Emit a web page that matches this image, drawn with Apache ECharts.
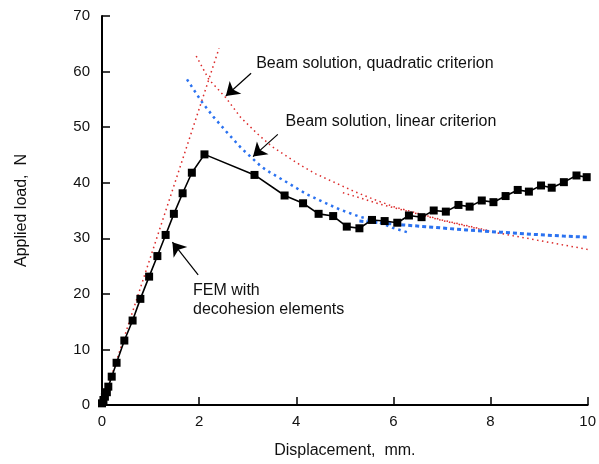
<!DOCTYPE html>
<html>
<head>
<meta charset="utf-8">
<script src="https://cdn.jsdelivr.net/npm/echarts@6/dist/echarts.min.js"></script>
<style>
  html, body { margin: 0; padding: 0; background: #fff; }
  #chart { width: 599px; height: 464px; }
</style>
</head>
<body>
<div id="chart"></div>
<script>
// FEM with decohesion elements: [displacement mm, load N]
const femPoints = [
  [0, 0.3], [0.03, 0.9], [0.06, 1.5], [0.1, 2.3], [0.13, 3.3], [0.2, 5.1],
  [0.3, 7.6], [0.46, 11.6], [0.63, 15.2], [0.79, 19.1], [0.97, 23.1],
  [1.14, 26.8], [1.31, 30.6], [1.48, 34.4], [1.66, 38.1], [1.85, 41.8],
  [2.11, 45.1], [3.14, 41.4], [3.76, 37.7], [4.14, 36.3], [4.46, 34.4],
  [4.76, 34.0], [5.04, 32.1], [5.30, 31.8], [5.56, 33.3], [5.82, 33.1],
  [6.08, 32.8], [6.32, 34.1], [6.58, 33.8], [6.83, 35.0], [7.08, 34.8],
  [7.34, 36.0], [7.57, 35.7], [7.82, 36.8], [8.06, 36.5], [8.31, 37.6],
  [8.56, 38.7], [8.79, 38.4], [9.04, 39.5], [9.26, 39.1], [9.51, 40.1],
  [9.77, 41.3], [9.98, 41.0]
];

// initial stiffness line (red dotted)
const stiffnessLine = [[0, 0], [2.41, 64.2]];

// beam solution, quadratic criterion (red dotted, two branches)
const quadraticA = [
  [1.94, 62.8], [2.2, 58.6], [2.55, 55.3], [2.85, 51.8], [3.2, 48.8],
  [3.5, 46.5], [3.85, 44.5], [4.1, 43.1], [4.4, 41.6], [4.8, 40.0],
  [5.2, 38.4], [5.6, 37.0], [6.0, 35.7], [6.5, 34.5], [7.0, 33.3],
  [7.5, 32.3], [8.0, 31.3]
];
const quadraticB = [
  [4.96, 38.2], [5.3, 37.3], [5.7, 36.2], [6.1, 35.3], [6.5, 34.4],
  [7.0, 33.2], [7.5, 32.2], [8.0, 31.2], [8.5, 30.4], [9.0, 29.6],
  [9.5, 28.8], [10, 28.0]
];

// beam solution, linear criterion (blue dotted, two branches)
const linearA = [
  [1.75, 58.6], [2.05, 54.6], [2.29, 51.9], [2.56, 49.2], [2.87, 46.2],
  [3.28, 42.9], [3.45, 41.9], [3.86, 39.8], [4.2, 38.0], [4.54, 36.6],
  [4.89, 35.2], [5.3, 33.9], [5.64, 33.1], [5.98, 31.9], [6.32, 31.0]
];
const linearB = [
  [5.3, 33.1], [5.7, 32.8], [6.2, 32.4], [6.8, 32.0], [7.5, 31.5],
  [8.2, 31.1], [8.9, 30.7], [9.5, 30.4], [10, 30.2]
];

// annotations: arrow [from, to] and text anchor (left, middle)
const arrows = [
  [[3.07, 59.7], [2.55, 55.6]],
  [[3.62, 48.7], [3.11, 44.7]],
  [[1.98, 23.4], [1.45, 29.3]]
];
const notes = [
  { at: [3.175, 61.5], text: 'Beam solution, quadratic criterion' },
  { at: [3.78, 51.0], text: 'Beam solution, linear criterion' },
  { at: [1.875, 18.9], text: 'FEM with\ndecohesion elements' }
];

const xTicks = { min: 0, max: 10, interval: 2 };
const yTicks = { min: 0, max: 70, interval: 10 };

const font = 'Liberation Sans, Arial, sans-serif';
const red = '#dc2b2b';
const blue = '#2b72f0';

const chart = echarts.init(document.getElementById('chart'));

function dotted(data, color, width, dash) {
  return {
    type: 'line',
    data: data,
    symbol: 'none',
    silent: true,
    lineStyle: { color: color, width: width, type: dash },
    z: 2
  };
}

const option = {
  animation: false,
  backgroundColor: '#fff',
  grid: { left: 102, right: 10, top: 16, bottom: 57, containLabel: false },
  xAxis: {
    type: 'value',
    min: xTicks.min, max: xTicks.max, interval: xTicks.interval,
    name: 'Displacement,  mm.',
    nameLocation: 'middle',
    nameGap: 38,
    nameTextStyle: { fontFamily: font, fontSize: 16, color: '#111' },
    axisLine: { lineStyle: { color: '#000', width: 2 } },
    axisTick: { inside: true, length: 8, lineStyle: { color: '#000', width: 1.5 } },
    axisLabel: { fontFamily: font, fontSize: 15, color: '#111', margin: 9 },
    splitLine: { show: false }
  },
  yAxis: {
    type: 'value',
    min: yTicks.min, max: yTicks.max, interval: yTicks.interval,
    name: 'Applied load,  N',
    nameLocation: 'middle',
    nameGap: 72,
    nameTextStyle: { fontFamily: font, fontSize: 16, color: '#111' },
    axisLine: { show: true, lineStyle: { color: '#000', width: 2 } },
    axisTick: { show: true, inside: true, length: 8, lineStyle: { color: '#000', width: 1.5 } },
    axisLabel: { fontFamily: font, fontSize: 15, color: '#111', margin: 12 },
    splitLine: { show: false }
  },
  series: [
    dotted(stiffnessLine, red, 1.5, [1.5, 3.5]),
    dotted(quadraticA, red, 1.5, [1.5, 3.5]),
    dotted(quadraticB, red, 1.5, [1.5, 3.5]),
    dotted(linearA, blue, 2.5, [2.5, 4]),
    dotted(linearB, blue, 3, [4, 3]),
    {
      type: 'line',
      data: femPoints,
      symbol: 'rect',
      symbolSize: 8,
      silent: true,
      itemStyle: { color: '#000' },
      lineStyle: { color: '#000', width: 1.6 },
      z: 3,
      markLine: {
        silent: true,
        symbol: ['none', 'arrow'],
        symbolSize: 13,
        label: { show: false },
        lineStyle: { color: '#000', width: 1.2, type: 'solid' },
        data: arrows.map(a => [{ coord: a[0] }, { coord: a[1] }])
      }
    }
  ]
};

chart.setOption(option);

chart.setOption({
  graphic: notes.map(n => {
    const p = chart.convertToPixel({ gridIndex: 0 }, n.at);
    return {
      type: 'text',
      x: p[0],
      y: p[1],
      silent: true,
      style: {
        text: n.text,
        font: '16px ' + font,
        fill: '#111',
        textVerticalAlign: 'middle',
        lineHeight: 19
      }
    };
  })
});
</script>
</body>
</html>
